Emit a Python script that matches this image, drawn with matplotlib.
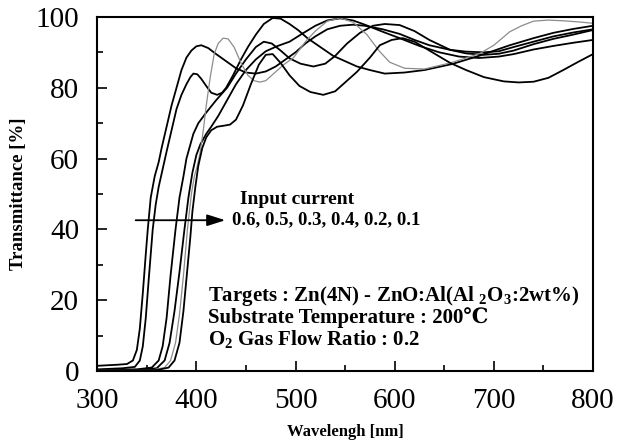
import matplotlib
matplotlib.use("Agg")
import matplotlib.pyplot as plt
from matplotlib.ticker import MultipleLocator

plt.rcParams["font.family"] = ["Liberation Serif", "DejaVu Serif", "DejaVu Sans"]
plt.rcParams["mathtext.fontset"] = "custom"
plt.rcParams["mathtext.rm"] = "Liberation Serif:bold"
plt.rcParams["mathtext.bf"] = "Liberation Serif:bold"

# transmittance curves (wavelength nm, T %)
wl_06 = [300, 320, 330, 336, 340, 343, 346, 349, 351, 354, 358, 362, 365, 370, 375, 380, 385,
         390, 395, 400, 405, 412, 420, 430, 440, 450, 460, 470, 480, 490, 500, 510, 520, 532,
         545, 558, 570, 588, 605, 620, 635, 656, 672, 690, 705, 720, 740, 760, 780, 800]
t_06 = [1.5, 1.8, 2.0, 3.0, 6.0, 12, 22, 33, 40, 49, 55, 59, 63, 69, 75, 80, 85,
        88.5, 90.5, 91.7, 92, 91.2, 89.5, 87.5, 85.5, 84.3, 84, 84.6, 86, 88, 90, 92.5, 94.5, 96.5,
        97.5, 97.8, 97.5, 96.5, 95.2, 93.5, 92, 90.7, 90.2, 90, 90.3, 91.5, 93, 94.5, 95.6, 96.5]

wl_05 = [300, 325, 338, 343, 346, 349, 352, 356, 359, 362, 366, 370, 375, 380, 385, 390, 394,
         397, 401, 405, 410, 415, 421, 426, 430, 437, 445, 452, 460, 468, 477, 485, 494, 503,
         512, 525, 538, 550, 562, 575, 590, 610, 630, 658, 685, 716, 740, 760, 780, 800]
t_05 = [0.5, 0.8, 1.2, 3.0, 7.0, 15, 26, 40, 47, 52, 57, 62, 68, 74, 78, 81, 83,
        84, 83.8, 82.5, 80.5, 78.6, 78, 78.6, 80, 83.5, 88, 91.5, 95, 98, 99.7, 99.5, 98, 96.2,
        94, 91.5, 89, 87.5, 86, 85, 84, 84.3, 85, 86.7, 89, 92, 94, 95.5, 96.6, 97.5]

wl_03 = [300, 340, 355, 362, 366, 370, 374, 379, 383, 387, 390, 394, 397, 402, 410, 420, 431,
         440, 450, 460, 468, 476, 485, 494, 505, 518, 530, 540, 552, 565, 578, 590, 605, 620,
         635, 656, 672, 690, 705, 720, 740, 760, 780, 800]
t_03 = [0.3, 0.5, 1.0, 3.0, 7.0, 15, 27, 40, 49, 55, 60, 64, 67, 70, 73, 76.5, 80,
        84, 88, 91.5, 93, 92.5, 90.5, 88.3, 86.8, 86, 86.8, 89, 92.5, 95.5, 97.5, 98, 97.7, 96,
        93.5, 90.7, 89.7, 89.3, 89.6, 90.5, 92.3, 93.8, 95, 96.3]

wl_04 = [300, 345, 360, 368, 373, 378, 383, 388, 392, 396, 400, 404, 410, 415, 422, 430, 440,
         450, 460, 470, 482, 494, 507, 520, 532, 545, 558, 570, 588, 605, 625, 645, 665, 685,
         705, 720, 740, 760, 780, 800]
t_04 = [0.3, 0.4, 0.8, 3.0, 8.0, 17, 28, 40, 49, 56, 61, 64, 67, 69, 72, 76, 81,
        85, 88, 90.3, 91.8, 93, 95.3, 97.5, 99, 99.6, 99, 97.8, 95.8, 94, 91.8, 90, 88.8, 88.4,
        88.8, 89.5, 90.8, 91.8, 92.7, 93.5]

wl_02 = [300, 355, 368, 374, 379, 383, 387, 391, 395, 398, 401, 404, 407, 410, 414, 418, 422,
         427, 432, 438, 445, 452, 458, 464, 470, 478, 488, 498, 510, 520, 532, 545, 558, 572,
         584, 595, 610, 630, 656, 672, 686, 700, 716, 728, 740, 755, 770, 785, 800]
t_02 = [0.2, 0.3, 1.0, 3.0, 8.0, 16, 27, 40, 50, 55, 58, 62, 68, 75, 83, 89.5, 92.5,
        94, 93.8, 91.5, 87, 83.5, 82, 81.6, 82, 84, 86.5, 88.5, 93, 96, 98.8, 99.7, 98.5, 95,
        90.5, 87.2, 85.5, 85.3, 87, 88.4, 89.7, 92, 95.8, 97.5, 98.8, 99.1, 98.9, 98.6, 98.2]

wl_01 = [300, 360, 372, 378, 383, 387, 391, 394, 396, 399, 402, 406, 410, 415, 421, 428, 434,
         440, 447, 455, 463, 470, 477, 485, 494, 504, 515, 528, 540, 550, 562, 575, 585, 597,
         608, 620, 635, 656, 672, 690, 710, 725, 740, 755, 770, 785, 800]
t_01 = [0.2, 0.3, 1.0, 3.0, 8.0, 17, 29, 38, 45, 52, 58, 63, 66, 68, 69, 69.3, 69.6,
        71, 75, 81, 86.5, 89.3, 89.5, 87, 83.5, 80.5, 78.8, 78, 79, 81.5, 84.5, 88.5, 92, 93.5,
        94, 93, 90.5, 87, 85, 83, 81.8, 81.5, 81.7, 82.8, 85, 87.3, 89.5]

series = [
    (wl_06, t_06, "black", 1.3),
    (wl_05, t_05, "black", 1.3),
    (wl_03, t_03, "black", 1.3),
    (wl_04, t_04, "black", 1.3),
    (wl_02, t_02, "0.55", 0.9),
    (wl_01, t_01, "black", 1.3),
]

fig = plt.figure(figsize=(6.19, 4.45), dpi=100)
ax = fig.add_axes([0.157, 0.166, 0.801, 0.796])

for wl, t, col, lw in series:
    ax.plot(wl, t, color=col, linewidth=lw)

ax.set_xlim(300, 800)
ax.set_ylim(0, 100)
ax.xaxis.set_major_locator(MultipleLocator(100))
ax.xaxis.set_minor_locator(MultipleLocator(50))
ax.yaxis.set_major_locator(MultipleLocator(20))
ax.yaxis.set_minor_locator(MultipleLocator(10))
ax.tick_params(which="both", direction="in", top=False, right=False, width=1.2)
ax.tick_params(which="major", length=7, labelsize=21)
ax.tick_params(axis="x", which="major", pad=12)
ax.tick_params(axis="y", which="major", pad=13)
ax.tick_params(which="minor", length=4)
for sp in ax.spines.values():
    sp.set_linewidth(1.5)

ax.set_xlabel("Wavelengh [nm]", fontsize=12, fontweight="bold", labelpad=7)
ax.set_ylabel("Transmittance [%]", fontsize=13.5, fontweight="bold", labelpad=6)

# arrow through the absorption edges + legend text
ax.annotate("", xy=(432, 42.6), xytext=(336, 42.6),
            arrowprops=dict(arrowstyle="-|>,head_length=1.1,head_width=0.35",
                            color="black", lw=1.3))
ax.text(444, 48.5, "Input current", fontsize=14, fontweight="bold", va="center")
ax.text(436, 42.6, "0.6, 0.5, 0.3, 0.4, 0.2, 0.1", fontsize=13.5, fontweight="bold",
        va="center")

ax.text(412, 21.2, r"Targets : Zn(4N) - ZnO:Al(Al $_{2}$O$_{3}$:2wt%)", fontsize=15,
        fontweight="bold", va="center")
ax.text(412, 15.0, "Substrate Temperature : 200\u2103", fontsize=15,
        fontweight="bold", va="center")
ax.text(412, 8.8, r"O$_{2}$ Gas Flow Ratio : 0.2", fontsize=15,
        fontweight="bold", va="center")

fig.savefig("out.png", dpi=100)
